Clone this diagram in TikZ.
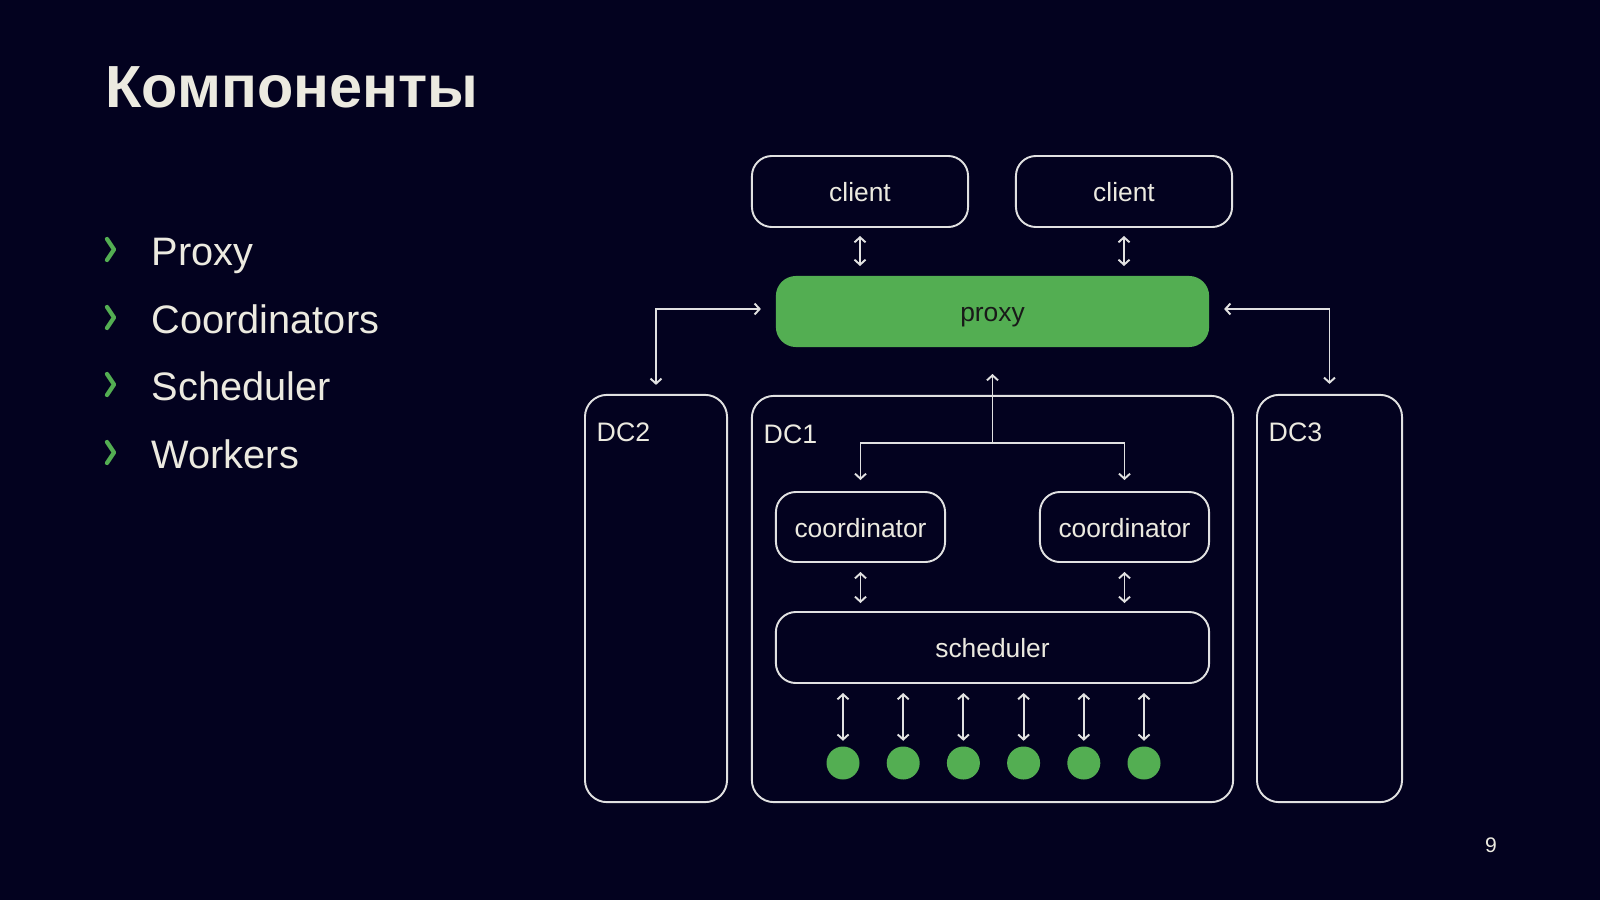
\documentclass[tikz,border=0pt]{standalone}
\usepackage{fontspec}
\setmainfont{Liberation Sans}
\usetikzlibrary{arrows.meta}
\definecolor{bg}{RGB}{3,2,31}
\definecolor{fg}{RGB}{236,234,224}
\definecolor{ln}{RGB}{225,225,225}
\definecolor{grn}{RGB}{83,174,82}
\definecolor{dark}{RGB}{25,25,25}
\tikzset{
  box/.style={draw=ln, line width=0.55pt, rounded corners=0.2cm, text=fg, font=\fontsize{7.5pt}{9pt}\selectfont, inner sep=0pt, text height=5.9pt, text depth=0pt},
  dcbox/.style={draw=ln, line width=0.55pt, rounded corners=0.22cm},
  dclabel/.style={text=fg, font=\fontsize{7.6pt}{9pt}\selectfont, anchor=west, inner sep=0pt},
  conn/.style={draw=ln, line width=0.55pt, arrows={Straight Barb[length=0.05cm,width=0.11cm]-Straight Barb[length=0.05cm,width=0.11cm]}},
  oneway/.style={draw=ln, line width=0.55pt, -{Straight Barb[length=0.05cm,width=0.11cm]}},
  worker/.style={circle, fill=grn, minimum size=0.33cm, inner sep=0pt},
  bullettext/.style={text=fg, font=\fontsize{11.3pt}{13pt}\selectfont, anchor=base west, inner sep=0pt},
  chev/.style={draw=grn, line width=1.2pt, line cap=round, line join=round}
}
\begin{document}
\begin{tikzpicture}[x=0.01cm,y=-0.01cm]
\fill[bg] (0,0) rectangle (1600,900);
\useasboundingbox (0,0) rectangle (1600,900);

% title
\node[text=fg, font=\fontsize{16.9pt}{20pt}\selectfont\bfseries, anchor=base west, inner sep=0pt] (title) at (105,107) {Компоненты};

% bullets
\foreach \y/\t/\n in {265/Proxy/b1, 333/Coordinators/b2, 400/Scheduler/b3, 468/Workers/b4}{
  \draw[chev] (107,\y-26) -- (114,\y-15.5) -- (107,\y-5);
  \node[bullettext] (\n) at (151,\y) {\t};
}

% clients and proxy
\node[box, minimum width=2.16cm, minimum height=0.71cm] (c1) at (860,191.5) {client};
\node[box, minimum width=2.16cm, minimum height=0.71cm] (c2) at (1124,191.5) {client};
\node[box, draw=none, fill=grn, text=dark, minimum width=4.33cm, minimum height=0.71cm] (proxy) at (992.5,311.5) {proxy};

% data centres
\node[dcbox, minimum width=1.42cm, minimum height=4.07cm] (dc2) at (656,598.5) {};
\node[dcbox, minimum width=4.81cm, minimum height=4.06cm] (dc1) at (992.5,599) {};
\node[dcbox, minimum width=1.45cm, minimum height=4.07cm] (dc3) at (1329.5,598.5) {};
\node[dclabel] (l2) at (596,432) {DC2};
\node[dclabel] (l1) at (763,434) {DC1};
\node[dclabel] (l3) at (1268,432) {DC3};

% coordinators and scheduler
\node[box, minimum width=1.69cm, minimum height=0.70cm] (co1) at (860.5,527) {coordinator};
\node[box, minimum width=1.69cm, minimum height=0.70cm] (co2) at (1124.5,527) {coordinator};
\node[box, minimum width=4.33cm, minimum height=0.71cm] (sch) at (992.5,647.5) {scheduler};

% workers
\foreach \i in {0,...,5}{
  \node[worker] (w\i) at ({843+60.2*\i},763) {};
  \draw[conn, shorten <=0.09cm, shorten >=0.05cm] (w\i |- sch.south) -- (w\i.north);
}

% connectors
\draw[conn, shorten <=0.08cm, shorten >=0.09cm] (c1.south) -- (c1.south |- proxy.north);
\draw[conn, shorten <=0.08cm, shorten >=0.09cm] (c2.south) -- (c2.south |- proxy.north);
\draw[conn, shorten <=0.14cm, shorten >=0.09cm] ([yshift=0.025cm]proxy.west) -| (dc2.north);
\draw[conn, shorten <=0.14cm, shorten >=0.10cm] ([yshift=0.025cm]proxy.east) -| (dc3.north);

\coordinate (j) at (992.5,443);
\draw[oneway, shorten >=0.26cm] (j) -- (proxy.south);
\draw[oneway, shorten >=0.11cm] (j) -| (co1.north);
\draw[oneway, shorten >=0.11cm] (j) -| (co2.north);

\draw[conn, shorten <=0.09cm, shorten >=0.08cm] (co1.south) -- (co1.south |- sch.north);
\draw[conn, shorten <=0.09cm, shorten >=0.08cm] (co2.south) -- (co2.south |- sch.north);

% page number
\node[text=fg, font=\fontsize{6pt}{7pt}\selectfont, inner sep=0pt] (pg) at (1491,845) {9};
\end{tikzpicture}
\end{document}
